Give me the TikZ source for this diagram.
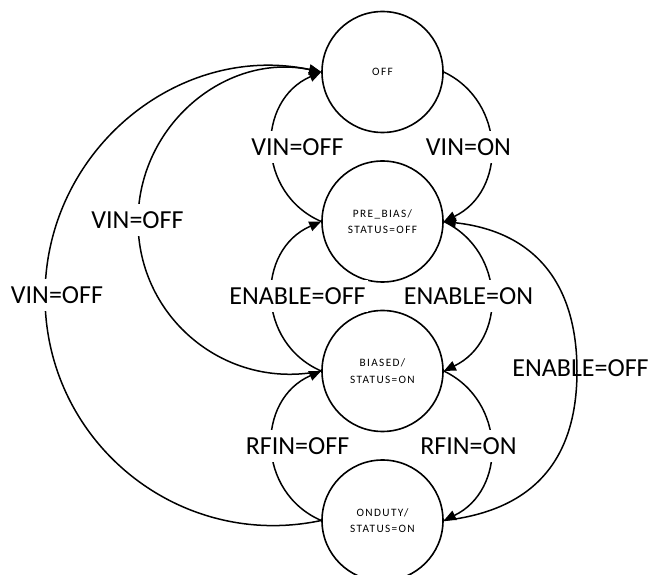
\documentclass[tikz,border=0pt]{standalone}
\usepackage{fontspec}
\setmainfont{Carlito}
\usetikzlibrary{arrows.meta}
\begin{document}
\begin{tikzpicture}[x=1pt,y=1pt,
  statenode/.style={circle,draw,line width=1.6pt,minimum size=121pt,inner sep=0pt,align=center,
    font=\fontsize{11.3}{16.7}\selectfont\addfontfeatures{LetterSpace=12}},
  conn/.style={line width=1.5pt,-{Triangle[length=12pt,width=10pt]}},
  lbl/.style={fill=white,inner xsep=2pt,inner ysep=7.5pt,font=\fontsize{26}{30}\selectfont},
  lblnofill/.style={inner sep=2pt,font=\fontsize{26}{30}\selectfont}]
\useasboundingbox (0,0) rectangle (649,574);
\clip (0,0) rectangle (649,574);

% states
\node[statenode] (off)    at (382.5,502)   {OFF};
\node[statenode] (pre)    at (382.5,352.5) {PRE\_BIAS/\\STATUS=OFF};
\node[statenode] (biased) at (382.5,203)   {BIASED/\\STATUS=ON};
\node[statenode] (onduty) at (382.5,53.5)  {ONDUTY/\\STATUS=ON};

% apex coordinates of the long arcs
\coordinate (midapex) at (138,352.5);
\coordinate (outapex) at (45,277.75);
\coordinate (rightapex) at (577,203);

% short left arcs
\draw[conn] (pre.west) to[out=156.5,in=203.5,distance=71.3pt] (off.west);
\draw[conn] (biased.west) to[out=156.5,in=203.5,distance=71.3pt] (pre.west);
\draw[conn] (onduty.west) to[out=156.5,in=203.5,distance=71.3pt] (biased.west);

% short right arcs
\draw[conn] (off.east) to[out=-25.6,in=25.6,distance=69.6pt] (pre.east);
\draw[conn] (pre.east) to[out=-25.6,in=25.6,distance=69.6pt] (biased.east);
\draw[conn] (biased.east) to[out=-25.6,in=25.6,distance=69.6pt] (onduty.east);

% long left arcs
\draw[conn] (biased.west) to[out=191.8,in=270,distance=96.9pt] (midapex)
  to[out=90,in=168.2,distance=96.9pt] (off.west);
\draw[conn] (onduty.west) to[out=192,in=270,distance=145.8pt] (outapex)
  to[out=90,in=168,distance=145.8pt] (off.west);

% long right arc
\draw[conn] (onduty.east) to[out=6.3,in=270,distance=89.6pt] (rightapex)
  to[out=90,in=-6.3,distance=89.6pt] (pre.east);

% labels
\node[lbl] (l1) at (297.5,427.3) {VIN=OFF};
\node[lbl] (l2) at (297.5,278) {ENABLE=OFF};
\node[lbl] (l3) at (297.5,128) {RFIN=OFF};
\node[lbl] (r1) at (468.5,427.3) {VIN=ON};
\node[lbl] (r2) at (468.5,278) {ENABLE=ON};
\node[lbl] (r3) at (468.5,128) {RFIN=ON};
\node[lbl] (m1) at (137.5,354) {VIN=OFF};
\node[lbl] (o1) at (57,279) {VIN=OFF};
\node[lblnofill] (e1) at (580.5,206) {ENABLE=OFF};
\end{tikzpicture}
\end{document}
